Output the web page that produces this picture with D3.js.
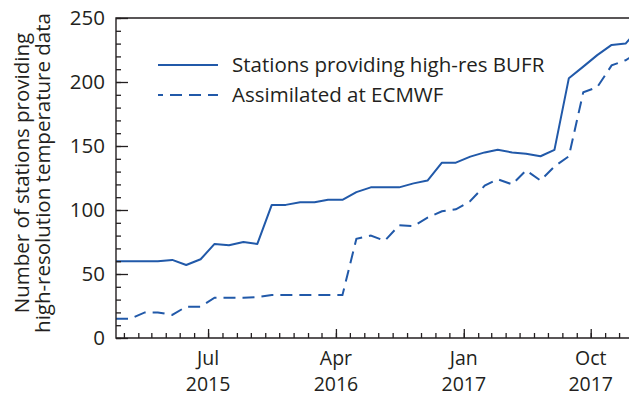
<!DOCTYPE html>
<html>
<head>
<meta charset="utf-8">
<script src="https://cdn.jsdelivr.net/npm/d3@7"></script>
<style>
  body { margin: 0; background: #fff; }
  svg { display: block; }
  text { font-family: "Open Sans", "Noto Sans", sans-serif; fill: #231f20; }
</style>
</head>
<body>
<svg id="chart" width="629" height="397"></svg>
<script>
// Monthly station counts, Dec 2014 – Jan 2018
const months = [
  "2014-12", "2015-01", "2015-02", "2015-03", "2015-04", "2015-05", "2015-06",
  "2015-07", "2015-08", "2015-09", "2015-10", "2015-11", "2015-12",
  "2016-01", "2016-02", "2016-03", "2016-04", "2016-05", "2016-06",
  "2016-07", "2016-08", "2016-09", "2016-10", "2016-11", "2016-12",
  "2017-01", "2017-02", "2017-03", "2017-04", "2017-05", "2017-06",
  "2017-07", "2017-08", "2017-09", "2017-10", "2017-11", "2017-12",
  "2018-01"
];
const bufrStations = [
  60, 60, 60, 60, 61, 57, 61.5,
  73.5, 72.5, 75, 73.5, 104, 104,
  106, 106, 108, 108, 114, 117.7,
  117.7, 117.7, 120.8, 123, 137, 137,
  141.7, 145, 147, 145, 144, 142,
  147, 203, 212, 221, 229, 230,
  243
];
const assimilated = [
  15, 15, 20, 20, 18, 24.5, 24.5,
  31.5, 31.5, 31.5, 32, 33.5, 33.5,
  33.5, 33.5, 33.5, 33.5, 77.5, 80,
  76, 88, 87.5, 94, 99, 100.5,
  107, 119, 124, 120, 131, 123,
  134, 142, 192, 196, 213, 217,
  224
];
const yTicks = [0, 50, 100, 150, 200, 250];
const xMajorDates = ["2015-07-01", "2016-04-01", "2017-01-01", "2017-10-01"];
const xMonthLabels = ["Jul", "Apr", "Jan", "Oct"];
const xYearLabels = ["2015", "2016", "2017", "2017"];
const seriesNames = ["Stations providing high-res BUFR", "Assimilated at ECMWF"];
const yTitle = ["Number of stations providing", "high-resolution temperature data"];

const blue = "#2159a9";
const ink = "#231f20";
const fontSize = 20.5;
const xLabelSize = 19.5;
const parseMonth = d3.timeParse("%Y-%m");
const dates = months.map(m => d3.timeDay.offset(parseMonth(m), 14));

const margin = { left: 116, top: 18, bottom: 338, right: 640 };
const svg = d3.select("#chart");

const x = d3.scaleTime()
  .domain([dates[0], dates[dates.length - 1]])
  .range([margin.left, margin.right]);
const y = d3.scaleLinear().domain([0, 250]).range([margin.bottom, margin.top]);

svg.append("clipPath").attr("id", "plot-clip")
  .append("rect")
  .attr("x", margin.left).attr("y", margin.top)
  .attr("width", margin.right - margin.left)
  .attr("height", margin.bottom - margin.top);

// Series lines
const line = values => d3.line()
  .x((d, i) => x(dates[i]))
  .y(d => y(d))(values);

const plot = svg.append("g").attr("clip-path", "url(#plot-clip)");
plot.append("path")
  .attr("d", line(assimilated))
  .attr("fill", "none").attr("stroke", blue).attr("stroke-width", 2)
  .attr("stroke-dasharray", "12,7");
plot.append("path")
  .attr("d", line(bufrStations))
  .attr("fill", "none").attr("stroke", blue).attr("stroke-width", 2)
  .attr("stroke-linejoin", "round");

// Frame
svg.append("path")
  .attr("d", `M${margin.right},${margin.top}H${margin.left}V${margin.bottom}H${margin.right}`)
  .attr("fill", "none").attr("stroke", ink).attr("stroke-width", 1.4);

// Y axis: inward ticks, minor every 10
const yAxisMinor = d3.axisRight(y).tickValues(d3.range(0, 251, 10)).tickSize(5).tickFormat("");
svg.append("g").attr("transform", `translate(${margin.left},0)`).call(yAxisMinor)
  .call(g => g.select(".domain").remove())
  .call(g => g.selectAll("line").attr("stroke", ink).attr("stroke-width", 1.3));
const yAxisMajor = d3.axisRight(y).tickValues(yTicks).tickSize(12).tickFormat("");
svg.append("g").attr("transform", `translate(${margin.left},0)`).call(yAxisMajor)
  .call(g => g.select(".domain").remove())
  .call(g => g.selectAll("line").attr("stroke", ink).attr("stroke-width", 1.3));

svg.append("g").selectAll("text").data(yTicks).join("text")
  .attr("x", 105).attr("y", d => y(d))
  .attr("dy", "0.36em")
  .attr("text-anchor", "end")
  .attr("font-size", fontSize)
  .text(d => d);

// X axis: inward monthly ticks, longer at labelled months
const majorDates = xMajorDates.map(d3.timeParse("%Y-%m-%d"));
const xAxisMinor = d3.axisTop(x)
  .tickValues(d3.timeMonth.range(new Date(2015, 0, 1), new Date(2018, 1, 1)))
  .tickSize(5).tickFormat("");
svg.append("g").attr("transform", `translate(0,${margin.bottom})`).call(xAxisMinor)
  .call(g => g.select(".domain").remove())
  .call(g => g.selectAll("line").attr("stroke", ink).attr("stroke-width", 1.3));
const xAxisMajor = d3.axisTop(x).tickValues(majorDates).tickSize(9).tickFormat("");
svg.append("g").attr("transform", `translate(0,${margin.bottom})`).call(xAxisMajor)
  .call(g => g.select(".domain").remove())
  .call(g => g.selectAll("line").attr("stroke", ink).attr("stroke-width", 1.3));

// Month / year labels under the major ticks
const xLabels = svg.append("g").selectAll("g").data(majorDates).join("g")
  .attr("transform", d => `translate(${x(d)},0)`);
xLabels.append("text").attr("y", 364.5).attr("text-anchor", "middle").attr("font-size", xLabelSize)
  .text((d, i) => xMonthLabels[i]);
xLabels.append("text").attr("y", 391).attr("text-anchor", "middle").attr("font-size", xLabelSize)
  .text((d, i) => xYearLabels[i]);

// Y axis title
const yT = svg.append("text")
  .attr("transform", "translate(0,173) rotate(-90)")
  .attr("text-anchor", "middle").attr("font-size", fontSize);
yT.append("tspan").attr("x", 0).attr("y", 29).text(yTitle[0]);
yT.append("tspan").attr("x", 0).attr("y", 50).text(yTitle[1]);

// Legend
const legend = svg.append("g");
[0, 1].forEach(i => {
  const ly = 65 + i * 30;
  legend.append("line")
    .attr("x1", 158).attr("x2", 218).attr("y1", ly).attr("y2", ly)
    .attr("stroke", blue).attr("stroke-width", 2)
    .attr("stroke-dasharray", i === 1 ? "5,7,12,7,12,7,12" : null);
  legend.append("text")
    .attr("x", 232).attr("y", ly).attr("dy", "0.36em")
    .attr("font-size", fontSize)
    .text(seriesNames[i]);
});
</script>
</body>
</html>
